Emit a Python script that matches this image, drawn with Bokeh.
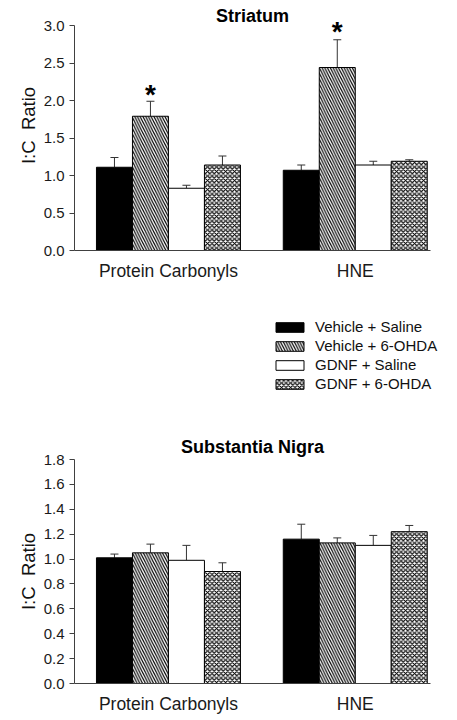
from bokeh.plotting import figure
from bokeh.models import (ColumnDataSource, Range1d, FixedTicker, Legend, LegendItem,
                          Whisker, TeeHead, PrintfTickFormatter, Label)
from bokeh.layouts import column
from bokeh.embed import file_html
from bokeh.resources import INLINE
from bokeh.core.properties import value

# ---------------- data ----------------
categories = ["Protein Carbonyls", "HNE"]
series = ["Vehicle + Saline", "Vehicle + 6-OHDA", "GDNF + Saline", "GDNF + 6-OHDA"]

# Striatum (mean, SEM) per series, ordered as categories
str_veh_sal = [1.11, 1.07]
str_veh_sal_err = [0.13, 0.07]
str_veh_ohda = [1.79, 2.44]
str_veh_ohda_err = [0.20, 0.37]
str_gdnf_sal = [0.83, 1.14]
str_gdnf_sal_err = [0.04, 0.05]
str_gdnf_ohda = [1.14, 1.19]
str_gdnf_ohda_err = [0.12, 0.02]
str_star_y = [2.16, 3.00]          # significance markers over Vehicle + 6-OHDA

# Substantia Nigra
sn_veh_sal = [1.01, 1.16]
sn_veh_sal_err = [0.03, 0.12]
sn_veh_ohda = [1.05, 1.13]
sn_veh_ohda_err = [0.07, 0.04]
sn_gdnf_sal = [0.99, 1.11]
sn_gdnf_sal_err = [0.12, 0.08]
sn_gdnf_ohda = [0.90, 1.22]
sn_gdnf_ohda_err = [0.07, 0.05]

str_ticks = [0.0, 0.5, 1.0, 1.5, 2.0, 2.5, 3.0]
sn_ticks = [0.0, 0.2, 0.4, 0.6, 0.8, 1.0, 1.2, 1.4, 1.6, 1.8]

# ---------------- styles ----------------
FONT = "Liberation Sans"
W = 457
styles = [
    dict(fill_color="black"),
    dict(fill_color="white", hatch_pattern="\\", hatch_color="black", hatch_scale=5.5, hatch_weight=1.2),
    dict(fill_color="white"),
    dict(fill_color="white", hatch_pattern="x", hatch_color="black", hatch_scale=4.5, hatch_weight=1.2),
]
group_start = [0.0, 5.19]          # layout of groups in bar-width units
X_START, X_END = -0.61, 9.28


def bar_x(j):
    return [group_start[i] + j + 0.5 for i in range(len(categories))]


def make_chart(means, errs, ticks, ymax, yend, height, top, bottom, stars=None):
    p = figure(width=W, height=height, output_backend="svg", toolbar_location=None,
               x_range=Range1d(X_START, X_END), y_range=Range1d(0, yend),
               min_border_left=74, min_border_right=27, min_border_top=top,
               min_border_bottom=bottom)
    p.outline_line_color = None
    p.xgrid.visible = False
    p.ygrid.visible = False

    renderers = []
    for j, (m, e) in enumerate(zip(means, errs)):
        src = ColumnDataSource(dict(x=bar_x(j), top=m,
                                    hi=[a + b for a, b in zip(m, e)]))
        r = p.vbar(x="x", top="top", width=1.0, bottom=0, source=src,
                   line_color="black", line_width=1, **styles[j])
        renderers.append(r)
        w = Whisker(base="x", lower="top", upper="hi", source=src, dimension="height",
                    line_color="#333333", line_width=1, lower_head=None,
                    upper_head=TeeHead(size=8, line_color="#333333", line_width=1))
        p.add_layout(w)

    if stars is not None:
        p.text(x=bar_x(1), y=stars, text=["*"] * len(stars), text_align="center",
               text_baseline="middle", text_font=value(FONT), text_font_size="28px",
               text_font_style="bold", text_color="black", y_offset=6)

    # axes
    p.yaxis.ticker = FixedTicker(ticks=ticks)
    p.yaxis.bounds = (0, ymax)
    p.yaxis.formatter = PrintfTickFormatter(format="%.1f")
    p.yaxis.axis_label = "I:C\u00a0\u00a0Ratio"
    p.yaxis.axis_label_text_font = FONT
    p.yaxis.axis_label_text_font_size = "18.5px"
    p.yaxis.axis_label_text_font_style = "normal"
    p.yaxis.axis_label_text_color = "#111111"
    p.yaxis.axis_label_standoff = 2
    centers = [group_start[i] + 2.0 for i in range(len(categories))]
    p.xaxis.ticker = FixedTicker(ticks=centers)
    p.xaxis.major_label_overrides = {c: lab for c, lab in zip(centers, categories)}
    p.xaxis.major_tick_line_color = None
    p.xaxis.major_label_standoff = 5
    for ax in (p.xaxis, p.yaxis):
        ax.axis_line_color = "#404040"
        ax.major_tick_out = 5
        ax.major_tick_in = 0
        ax.minor_tick_line_color = None
        ax.major_label_text_font = FONT
        ax.major_label_text_color = "#1a1a1a"
    p.yaxis.major_label_text_font_size = "15px"
    p.yaxis.major_tick_line_color = "#404040"
    p.xaxis.major_label_text_font_size = "17.5px"
    return p, renderers


def style_title(t):
    t.align = "center"
    t.text_font = FONT
    t.text_font_size = "18px"
    t.text_font_style = "bold"
    t.text_color = "black"


# ---- Striatum: frame reaches the top edge so the star above 3.0 is not clipped
p1, _ = make_chart([str_veh_sal, str_veh_ohda, str_gdnf_sal, str_gdnf_ohda],
                   [str_veh_sal_err, str_veh_ohda_err, str_gdnf_sal_err, str_gdnf_ohda_err],
                   str_ticks, 3.0, 3.0 * 250 / 225, 285, 0, 35, stars=str_star_y)
p1.add_layout(Label(x=(X_START + X_END) / 2, y=3.13, text="Striatum", text_align="center",
                    text_baseline="middle", text_font=FONT, text_font_size="18px",
                    text_font_style="bold", text_color="black"))

# ---- legend panel between the two charts (legend swatches use the same bar styles;
#      the proxy bars lie outside the visible ranges, only their legend entries show)
pl = figure(width=W, height=145, output_backend="svg", toolbar_location=None,
            x_axis_location=None, y_axis_location=None, min_border=0,
            x_range=Range1d(0, 1), y_range=Range1d(0, 1), frame_align=False)
pl.outline_line_color = None
pl.xgrid.visible = False
pl.ygrid.visible = False
items = []
for s, st in zip(series, styles):
    r = pl.vbar(x=[-50], top=[-50], width=1.0, bottom=-51, line_color="black",
                line_width=1, **st)
    items.append(LegendItem(label=s, renderers=[r]))
legend = Legend(items=items, location=(272, 38), padding=0, margin=0, spacing=2,
                glyph_width=35, glyph_height=12, label_height=16, label_standoff=8,
                label_text_font=FONT, label_text_font_size="15px",
                label_text_color="#111111",
                border_line_color=None, background_fill_alpha=0)
pl.add_layout(legend, "center")

# ---- Substantia Nigra
p2, _ = make_chart([sn_veh_sal, sn_veh_ohda, sn_gdnf_sal, sn_gdnf_ohda],
                   [sn_veh_sal_err, sn_veh_ohda_err, sn_gdnf_sal_err, sn_gdnf_ohda_err],
                   sn_ticks, 1.8, 1.8, 290, 29, 37)
p2.title.text = "Substantia Nigra"
style_title(p2.title)
p2.title.standoff = 5

layout = column(p1, pl, p2, spacing=0)
open("out.html", "w").write(file_html(layout, INLINE))
